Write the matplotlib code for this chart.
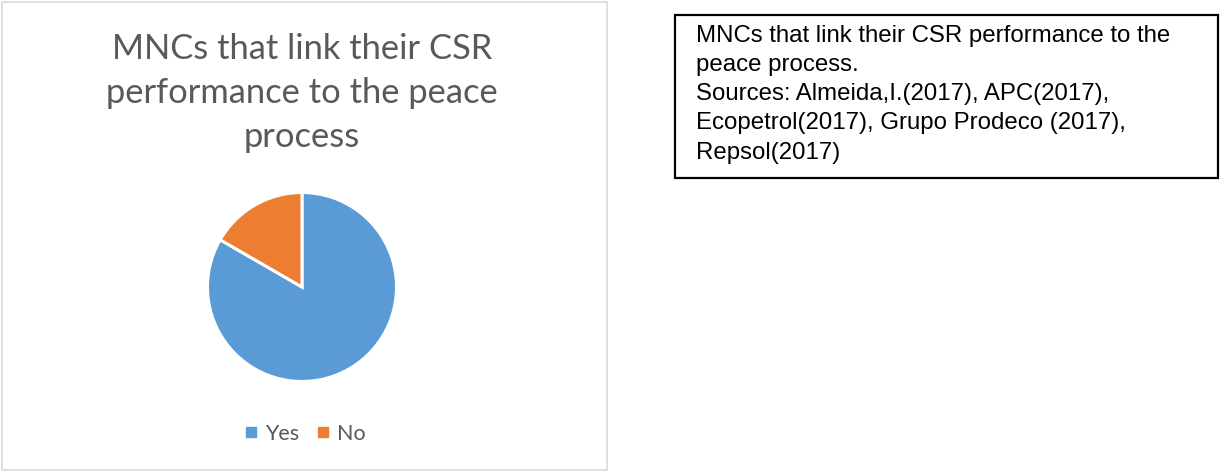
import matplotlib
matplotlib.use("Agg")
import matplotlib.pyplot as plt
from matplotlib.patches import Rectangle
from matplotlib.lines import Line2D

categories = ["Yes", "No"]
values = [5, 1]
colors = ["#5B9BD5", "#ED7D31"]
title = "MNCs that link their CSR\nperformance to the peace\nprocess"
note = ("MNCs that link their CSR performance to the\n"
        "peace process.\n"
        "Sources: Almeida,I.(2017), APC(2017),\n"
        "Ecopetrol(2017), Grupo Prodeco (2017),\n"
        "Repsol(2017)")

W, H = 1221, 473
fig = plt.figure(figsize=(W / 100, H / 100), dpi=100)
fig.patch.set_facecolor("white")

def fx(px):
    return px / W

def fy(py):
    return 1 - py / H

# chart area border
fig.patches.append(Rectangle((fx(2), fy(470)), fx(605), 468 / H, transform=fig.transFigure,
                             fill=False, edgecolor="#D9D9D9", linewidth=1.2))

# title
fig.text(fx(302), fy(93), title, ha="center", va="center", fontsize=24.8,
         color="#595959", family="Lato", linespacing=1.45)

# pie axes: 200x200 px centered at (302, 287)
cx, cy, s = 302, 287, 200
ax = fig.add_axes([fx(cx - s / 2), fy(cy + s / 2), s / W, s / H])
ax.pie(values, colors=colors, startangle=90, counterclock=False, radius=0.945,
       wedgeprops=dict(edgecolor="white", linewidth=2.2))
ax.set_xlim(-1, 1)
ax.set_ylim(-1, 1)
ax.set_aspect("equal")
ax.axis("off")

# legend
handles = [Line2D([0], [0], marker="s", linestyle="none", markersize=7,
                  markerfacecolor=c, markeredgecolor=c) for c in colors]
fig.legend(handles, categories, loc="center", bbox_to_anchor=(fx(303), fy(434)),
           ncol=2, frameon=False, labelcolor="#595959",
           handletextpad=0.15, columnspacing=0.6, handlelength=1.0,
           prop=dict(family="Lato", size=15.5))

# note box
fig.patches.append(Rectangle((fx(675), fy(178)), (1218 - 675) / W, (178 - 15) / H,
                             transform=fig.transFigure, fill=False,
                             edgecolor="black", linewidth=1.6))
fig.text(fx(696), fy(25), note, ha="left", va="top", fontsize=17.3,
         color="black", family="Liberation Sans", linespacing=1.42)

fig.savefig("out.png", dpi=100, facecolor="white")
